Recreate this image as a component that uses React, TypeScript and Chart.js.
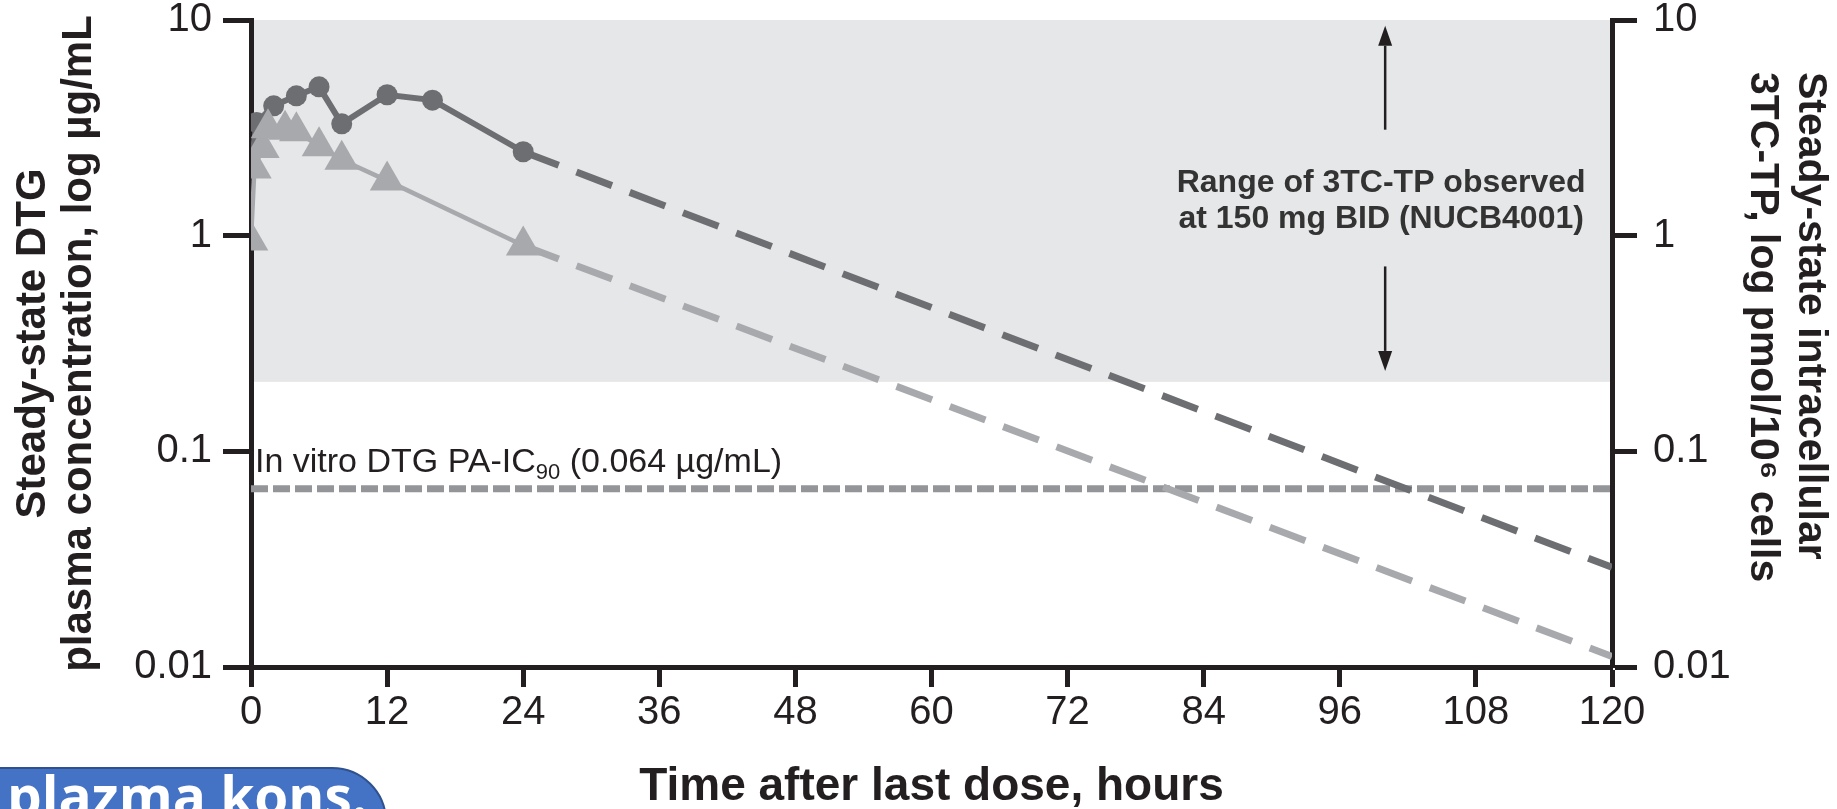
import React, { useEffect, useRef } from "react";
import { Chart, registerables } from "chart.js";

Chart.register(...registerables);

// ---------- data ----------
const X_TICKS = [0, 12, 24, 36, 48, 60, 72, 84, 96, 108, 120];
const Y_TICKS = [0.01, 0.1, 1, 10];
const Y_TICK_LABELS = ["0.01", "0.1", "1", "10"];

// DTG plasma (left axis), observed
const DTG_HOURS = [0, 0.5, 2, 4, 6, 8, 12, 16, 24];
const DTG_CONC = [2.1, 3.35, 4.0, 4.45, 4.9, 3.3, 4.5, 4.25, 2.45];
// DTG extrapolated
const DTG_EXT_HOURS = [24, 120];
const DTG_EXT_CONC = [2.45, 0.029];

// 3TC-TP intracellular (right axis), observed
const TP_HOURS = [0, 0.3, 1, 1.5, 3, 4, 6, 8, 12, 24];
const TP_CONC = [0.95, 2.05, 2.55, 3.15, 3.1, 3.05, 2.6, 2.25, 1.8, 0.9];
// 3TC-TP extrapolated
const TP_EXT_HOURS = [24, 120];
const TP_EXT_CONC = [0.9, 0.0112];

// In vitro PA-IC90 reference line
const IC90_HOURS = [0, 120];
const IC90_CONC = [0.067, 0.067];

// Observed range band of 3TC-TP
const RANGE_LOW = 0.21;
const RANGE_HIGH = 10;
const ARROW_HOUR = 100;
const ARROW_UP = [3.1, 9.4];
const ARROW_DOWN = [0.72, 0.236];

const RANGE_TEXT = ["Range of 3TC-TP observed", "at 150 mg BID (NUCB4001)"];
const IC90_TEXT_A = "In vitro DTG PA-IC";
const IC90_TEXT_SUB = "90";
const IC90_TEXT_B = " (0.064 \u00b5g/mL)";

const TITLE_LEFT = ["Steady-state DTG", "plasma concentration, log \u00b5g/mL"];
const TITLE_RIGHT = ["Steady-state intracellular", "3TC-TP, log pmol/10\u2076 cells"];
const TITLE_X = "Time after last dose, hours";

// ---------- style ----------
const FONT = "'Liberation Sans', Arial, Helvetica, sans-serif";
const INK = "#231f20";
const DARK = "#6d6e71";
const LIGHT = "#a7a9ac";
const REF = "#939598";
const BAND = "#e6e7e8";

const pts = (xs: number[], ys: number[]) => xs.map((x, i) => ({ x, y: ys[i] }));

const overlayPlugin = {
  id: "overlay",
  beforeDraw(chart: any) {
    const { ctx, chartArea } = chart;
    const y = chart.scales.y2;
    const top = y.getPixelForValue(RANGE_HIGH);
    const bot = y.getPixelForValue(RANGE_LOW);
    ctx.save();
    ctx.fillStyle = BAND;
    ctx.fillRect(chartArea.left, top, chartArea.right - chartArea.left, bot - top);
    ctx.restore();
  },
  afterDatasetsDraw(chart: any) {
    const { ctx, chartArea } = chart;
    const x = chart.scales.x;
    const y = chart.scales.y2;
    const yl = chart.scales.y;
    const ax = x.getPixelForValue(ARROW_HOUR);
    ctx.save();
    ctx.strokeStyle = INK;
    ctx.fillStyle = INK;
    ctx.lineWidth = 2.5;
    const arrow = (from: number, to: number) => {
      const p0 = y.getPixelForValue(from);
      const p1 = y.getPixelForValue(to);
      const dir = p1 < p0 ? -1 : 1;
      const head = 20;
      ctx.beginPath();
      ctx.moveTo(ax, p0);
      ctx.lineTo(ax, p1 - dir * head);
      ctx.stroke();
      ctx.beginPath();
      ctx.moveTo(ax, p1);
      ctx.lineTo(ax - 7, p1 - dir * head);
      ctx.lineTo(ax + 7, p1 - dir * head);
      ctx.closePath();
      ctx.fill();
    };
    arrow(ARROW_UP[0], ARROW_UP[1]);
    arrow(ARROW_DOWN[0], ARROW_DOWN[1]);

    // range text
    const mid = (y.getPixelForValue(ARROW_UP[0]) + y.getPixelForValue(ARROW_DOWN[0])) / 2;
    ctx.fillStyle = "#333333";
    ctx.font = `bold 32px ${FONT}`;
    ctx.textAlign = "center";
    ctx.textBaseline = "middle";
    ctx.fillText(RANGE_TEXT[0], ax - 4, mid - 15);
    ctx.fillText(RANGE_TEXT[1], ax - 4, mid + 21);

    // IC90 label
    const ly = yl.getPixelForValue(IC90_CONC[0]) - 17;
    let lx = chartArea.left + 4;
    ctx.fillStyle = INK;
    ctx.textAlign = "left";
    ctx.textBaseline = "alphabetic";
    ctx.font = `34px ${FONT}`;
    ctx.fillText(IC90_TEXT_A, lx, ly);
    lx += ctx.measureText(IC90_TEXT_A).width;
    ctx.font = `22px ${FONT}`;
    ctx.fillText(IC90_TEXT_SUB, lx, ly + 7);
    lx += ctx.measureText(IC90_TEXT_SUB).width;
    ctx.font = `34px ${FONT}`;
    ctx.fillText(IC90_TEXT_B, lx, ly);

    // right axis title (reads top to bottom, lines start near the top)
    ctx.fillStyle = INK;
    ctx.font = `bold 41px ${FONT}`;
    ctx.textAlign = "left";
    ctx.textBaseline = "middle";
    const startY = chartArea.top + 52;
    const outerX = chart.width - 27;
    TITLE_RIGHT.forEach((line, i) => {
      ctx.save();
      ctx.translate(outerX - i * 48, startY);
      ctx.rotate(Math.PI / 2);
      ctx.fillText(line, 0, 0);
      ctx.restore();
    });
    ctx.restore();
  },
};

const tickFont = { family: FONT, size: 40 };

export default function App() {
  const ref = useRef<HTMLCanvasElement | null>(null);

  useEffect(() => {
    document.body.style.margin = "0";
    const canvas = ref.current;
    if (!canvas) return;
    const logAxis = (position: "left" | "right", width: number, title: string[] | null, tickLen: number, pad: number, titlePad: number) => ({
      type: "logarithmic" as const,
      position,
      min: 0.01,
      max: 10,
      afterBuildTicks: (s: any) => {
        s.ticks = Y_TICKS.map((v) => ({ value: v }));
      },
      afterFit: (s: any) => {
        s.width = width;
        s.paddingTop = 0;
        s.paddingBottom = 0;
      },
      ticks: {
        font: tickFont,
        color: INK,
        padding: pad,
        autoSkip: false,
        callback: (v: any) => {
          const i = Y_TICKS.indexOf(Number(v));
          return i >= 0 ? Y_TICK_LABELS[i] : "";
        },
      },
      grid: { drawOnChartArea: false, drawTicks: true, tickLength: tickLen, tickWidth: 5, tickColor: INK },
      border: { display: true, width: 5, color: INK },
      title: {
        display: !!title,
        text: title || "",
        font: { family: FONT, size: 42, weight: "bold", lineHeight: 1.08 },
        color: INK,
        padding: { top: titlePad, bottom: 0 },
      },
    });

    const chart = new Chart(canvas, {
      type: "line",
      data: {
        datasets: [
          {
            label: "3TC-TP",
            data: pts(TP_HOURS, TP_CONC),
            yAxisID: "y2",
            borderColor: LIGHT,
            backgroundColor: LIGHT,
            borderWidth: 4.5,
            pointStyle: "triangle",
            pointRadius: 20,
            pointBorderWidth: 0,
            pointBackgroundColor: LIGHT,
            tension: 0,
            order: 0,
          },
          {
            label: "DTG",
            data: pts(DTG_HOURS, DTG_CONC),
            yAxisID: "y",
            borderColor: DARK,
            backgroundColor: DARK,
            borderWidth: 6,
            pointStyle: "circle",
            pointRadius: 10.5,
            pointBorderWidth: 0,
            pointBackgroundColor: DARK,
            tension: 0,
            order: 1,
          },
          {
            label: "DTG extrapolated",
            data: pts(DTG_EXT_HOURS, DTG_EXT_CONC),
            yAxisID: "y",
            borderColor: DARK,
            borderWidth: 7,
            borderDash: [38, 19],
            borderCapStyle: "butt",
            pointRadius: 0,
            order: 2,
          },
          {
            label: "3TC-TP extrapolated",
            data: pts(TP_EXT_HOURS, TP_EXT_CONC),
            yAxisID: "y2",
            borderColor: LIGHT,
            borderWidth: 7,
            borderDash: [38, 19],
            borderCapStyle: "butt",
            pointRadius: 0,
            order: 2,
          },
          {
            label: "PA-IC90",
            data: pts(IC90_HOURS, IC90_CONC),
            yAxisID: "y",
            borderColor: REF,
            borderWidth: 7,
            borderDash: [17, 5],
            borderCapStyle: "butt",
            pointRadius: 0,
            order: 3,
          },
        ],
      },
      options: {
        responsive: false,
        maintainAspectRatio: false,
        animation: false,
        layout: { padding: { top: 20, left: 0, right: 0, bottom: 0 } },
        plugins: { legend: { display: false }, tooltip: { enabled: false } },
        scales: {
          x: {
            type: "linear",
            position: "bottom",
            min: 0,
            max: 120,
            afterBuildTicks: (s: any) => {
              s.ticks = X_TICKS.map((v) => ({ value: v }));
            },
            afterFit: (s: any) => {
              s.height = 142;
              s.paddingLeft = 0;
              s.paddingRight = 0;
            },
            ticks: { font: tickFont, color: INK, padding: 2, maxRotation: 0, autoSkip: false, callback: (v: any) => String(v) },
            grid: { drawOnChartArea: false, drawTicks: true, tickLength: 20, tickWidth: 5, tickColor: INK },
            border: { display: true, width: 5, color: INK },
            title: {
              display: true,
              text: TITLE_X,
              font: { family: FONT, size: 46, weight: "bold", lineHeight: 1.0 },
              color: INK,
              padding: { top: 0, bottom: -1 },
            },
          },
          y: logAxis("left", 251, TITLE_LEFT, 28, 11, 11),
          y2: logAxis("right", 225, null, 25, 16, 0),
        },
      } as any,
      plugins: [overlayPlugin],
    });
    return () => chart.destroy();
  }, []);

  return (
    <div style={{ position: "relative", width: 1837, height: 809, overflow: "hidden", background: "#ffffff" }}>
      <canvas ref={ref} width={1837} height={809} style={{ display: "block", width: 1837, height: 809 }} />
      <div
        style={{
          position: "absolute",
          left: -4,
          top: 767,
          width: 391,
          height: 70,
          background: "#4472c4",
          border: "2px solid #2f528f",
          borderTopRightRadius: 55,
          boxSizing: "border-box",
        }}
      >
        <span
          style={{
            position: "absolute",
            left: 9,
            top: -2,
            fontFamily: "'Open Sans', 'Noto Sans', sans-serif",
            fontWeight: 700,
            fontSize: 55,
            lineHeight: "55px",
            color: "#ffffff",
            whiteSpace: "nowrap",
          }}
        >
          plazma kons.
        </span>
      </div>
    </div>
  );
}
